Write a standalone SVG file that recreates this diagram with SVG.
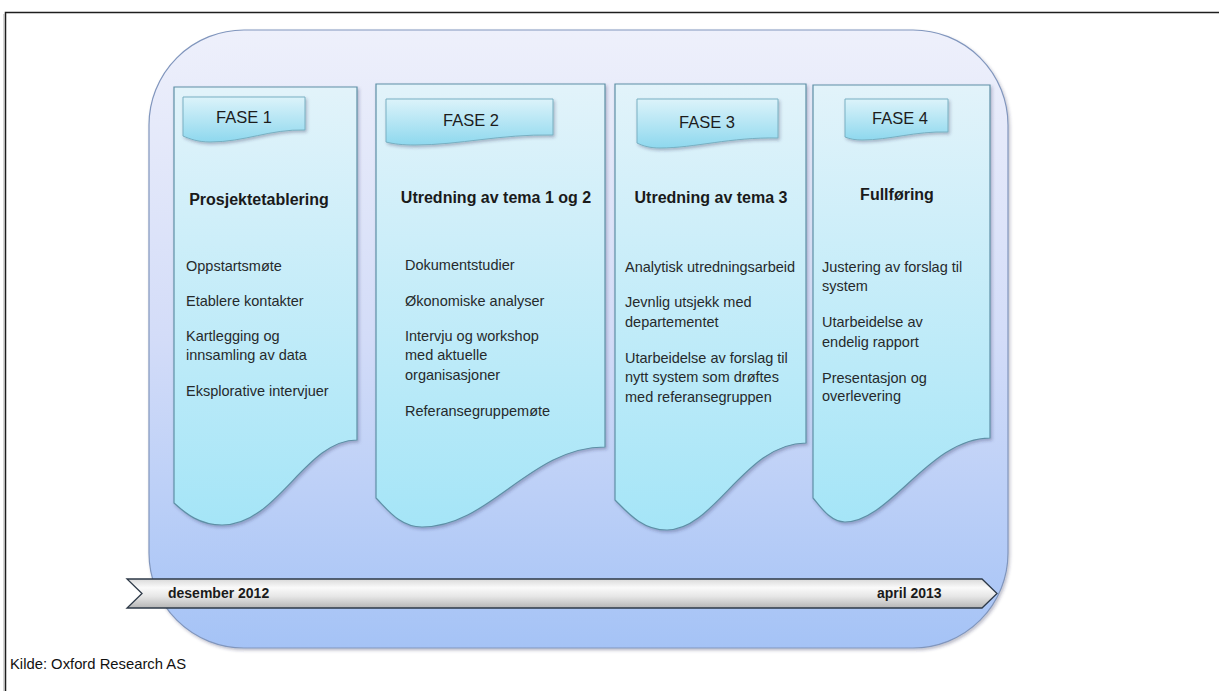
<svg xmlns="http://www.w3.org/2000/svg" width="1219" height="691" viewBox="0 0 1219 691">
<style>
.panel{stroke:#5e8fa6;stroke-width:1.2;fill:url(#gPanel)}
.tab{stroke:#78afc2;stroke-width:1;fill:url(#gTab)}
.fase{font-family:"Liberation Sans",Arial,sans-serif;font-size:16.5px;fill:#1c1c1c;text-anchor:middle}
.head{font-family:"Liberation Sans",Arial,sans-serif;font-size:16px;font-weight:bold;fill:#1a1a1a;text-anchor:middle}
.body{font-family:"Liberation Sans",Arial,sans-serif;font-size:14.5px;fill:#262a2c}
.rib{font-family:"Liberation Sans",Arial,sans-serif;font-size:14px;font-weight:bold;fill:#1a1a1a}
.src{font-family:"Liberation Sans",Arial,sans-serif;font-size:14.8px;fill:#111}
</style>
<defs>
<linearGradient id="gBig" x1="0" y1="0" x2="0" y2="1">
<stop offset="0" stop-color="#eef0fb"/>
<stop offset="0.5" stop-color="#d3dcf8"/>
<stop offset="1" stop-color="#a5c3f6"/>
</linearGradient>
<linearGradient id="gPanel" x1="0" y1="0" x2="0" y2="1">
<stop offset="0" stop-color="#e2f3fa"/>
<stop offset="1" stop-color="#a5e5f7"/>
</linearGradient>
<linearGradient id="gTab" x1="0" y1="0" x2="0" y2="1">
<stop offset="0" stop-color="#dcf3fa"/>
<stop offset="1" stop-color="#8ed8ee"/>
</linearGradient>
<linearGradient id="gRib" x1="0" y1="0" x2="0" y2="1">
<stop offset="0" stop-color="#d9d9d9"/>
<stop offset="0.3" stop-color="#fafafa"/>
<stop offset="0.6" stop-color="#e6e6e6"/>
<stop offset="1" stop-color="#b5b5b5"/>
</linearGradient>
<filter id="sh" x="-10%" y="-10%" width="130%" height="130%">
<feDropShadow dx="1.5" dy="2" stdDeviation="1.5" flood-color="#335" flood-opacity="0.3"/>
</filter>
</defs>

<rect x="-20" y="-20" width="1260" height="740" fill="#ffffff"/>
<path d="M5.5,700 V12.5 H1230" fill="none" stroke="#1e1e1e" stroke-width="1.5"/>
<path d="M4,700 V14" fill="none" stroke="#aaaaaa" stroke-width="1"/>

<g id="background">
<rect x="149" y="30" width="859" height="618" rx="95" ry="95" fill="url(#gBig)" stroke="#8196bd" stroke-width="1.2" filter="url(#sh)"/>
</g>

<g id="fase1">
<path class="panel" filter="url(#sh)" d="M174,87 H357 V440 C305,440 278,525 222,525 C200,525 186,514 174,503 Z"/>
<path class="tab" filter="url(#sh)" d="M183,97 H305 V130 C270,129 245,142 210,142 C198,142 190,139 183,136 Z"/>
<text class="fase" x="244" y="123">FASE 1</text>
<text class="head" x="259" y="205">Prosjektetablering</text>
<text class="body" x="186" y="271">Oppstartsmøte</text>
<text class="body" x="186" y="306">Etablere kontakter</text>
<text class="body" x="186" y="341">Kartlegging og</text>
<text class="body" x="186" y="360">innsamling av data</text>
<text class="body" x="186" y="396">Eksplorative intervjuer</text>
</g>

<g id="fase2">
<path class="panel" filter="url(#sh)" d="M376,84 H605 V447 C530,447 490,527 422,527 C400,527 388,510 376,498 Z"/>
<path class="tab" filter="url(#sh)" d="M386,99 H553 V135 C500,134 460,145 415,145 C402,145 394,144 386,142 Z"/>
<text class="fase" x="471" y="126">FASE 2</text>
<text class="head" x="496" y="203">Utredning av tema 1 og 2</text>
<text class="body" x="405" y="270">Dokumentstudier</text>
<text class="body" x="405" y="306">Økonomiske analyser</text>
<text class="body" x="405" y="341">Intervju og workshop</text>
<text class="body" x="405" y="360">med aktuelle</text>
<text class="body" x="405" y="380">organisasjoner</text>
<text class="body" x="405" y="416">Referansegruppemøte</text>
</g>

<g id="fase3">
<path class="panel" filter="url(#sh)" d="M615,84 H806 V443 C745,443 715,530 667,530 C642,530 627,512 615,500 Z"/>
<path class="tab" filter="url(#sh)" d="M637,99 H778 V138 C730,137 695,148 660,148 C650,148 643,146 637,143 Z"/>
<text class="fase" x="707" y="128">FASE 3</text>
<text class="head" x="711" y="203">Utredning av tema 3</text>
<text class="body" x="625" y="272">Analytisk utredningsarbeid</text>
<text class="body" x="625" y="307">Jevnlig utsjekk med</text>
<text class="body" x="625" y="327">departementet</text>
<text class="body" x="625" y="363">Utarbeidelse av forslag til</text>
<text class="body" x="625" y="382">nytt system som drøftes</text>
<text class="body" x="625" y="402">med referansegruppen</text>
</g>

<g id="fase4">
<path class="panel" filter="url(#sh)" d="M813,85 H990 V438 C930,438 890,522 845,522 C830,522 820,506 813,498 Z"/>
<path class="tab" filter="url(#sh)" d="M845,99 H948 V132 C915,131 890,140 862,140 C855,140 850,139 845,137 Z"/>
<text class="fase" x="900" y="124">FASE 4</text>
<text class="head" x="897" y="200">Fullføring</text>
<text class="body" x="822" y="272">Justering av forslag til</text>
<text class="body" x="822" y="291">system</text>
<text class="body" x="822" y="327">Utarbeidelse  av</text>
<text class="body" x="822" y="347">endelig rapport</text>
<text class="body" x="822" y="383">Presentasjon og</text>
<text class="body" x="822" y="401">overlevering</text>
</g>

<g id="timeline">
<path d="M127,579 H982 L997,593.5 L982,608 H127 L142,593.5 Z" fill="url(#gRib)" stroke="#2e3a48" stroke-width="1.3"/>
<text class="rib" x="168" y="598">desember 2012</text>
<text class="rib" x="877" y="598">april 2013</text>
</g>

<g id="connectors"></g>

<text class="src" x="10" y="669">Kilde: Oxford Research AS</text>
</svg>
